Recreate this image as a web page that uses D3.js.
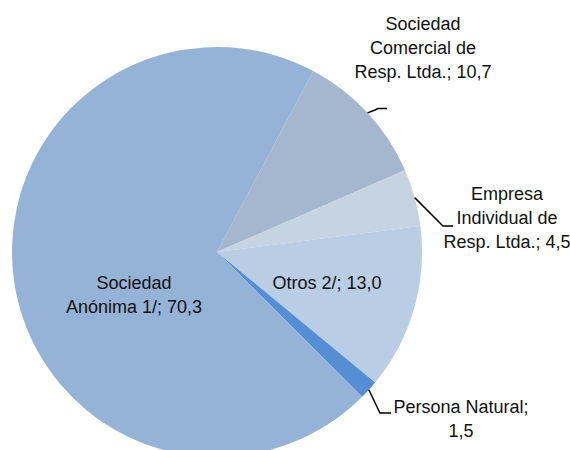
<!DOCTYPE html>
<html>
<head>
<meta charset="utf-8">
<script src="https://cdn.jsdelivr.net/npm/d3@7"></script>
<style>
  html, body { margin: 0; padding: 0; background: #ffffff; }
  svg { display: block; }
  text { font-family: "Liberation Sans", Arial, sans-serif; font-size: 18px; fill: #111111; }
</style>
</head>
<body>
<svg id="chart" width="570" height="450"></svg>
<script>
// Legal form shares (%), in clockwise drawing order
const categories = [
  "Sociedad Comercial de Resp. Ltda.",
  "Empresa Individual de Resp. Ltda.",
  "Otros 2/",
  "Persona Natural",
  "Sociedad Anónima 1/"
];
const values = [10.7, 4.5, 13.0, 1.5, 70.3];
const valueLabels = ["10,7", "4,5", "13,0", "1,5", "70,3"];
const labelLines = [
  ["Sociedad", "Comercial de", "Resp. Ltda.; 10,7"],
  ["Empresa", "Individual de", "Resp. Ltda.; 4,5"],
  ["Otros 2/; 13,0"],
  ["Persona Natural;", "1,5"],
  ["Sociedad", "Anónima 1/; 70,3"]
];
const colors = ["#a5b7ce", "#c6d3e1", "#b9cde5", "#558ed5", "#95b3d7"];

// Label placement: text anchor point, first baseline, and optional leader elbow
const labelLayout = [
  { x: 423, y: 30, leader: [[375, 110], [378, 108.5], [387, 108.5]] },
  { x: 507, y: 200, leader: [[443, 226], [453, 226]] },
  { x: 327, y: 289, leader: null },
  { x: 461, y: 413, leader: [[380, 413], [391, 413]] },
  { x: 134, y: 289, leader: null }
];

const svg = d3.select("#chart");
const cx = 217, cy = 252, radius = 205;
const lineHeight = 24;

const pie = d3.pie().sort(null).value(d => d)
  .startAngle(28 * Math.PI / 180)
  .endAngle(28 * Math.PI / 180 + 2 * Math.PI);
const arcs = pie(values);
const arc = d3.arc().innerRadius(0).outerRadius(radius);

const g = svg.append("g").attr("transform", `translate(${cx},${cy})`);
g.selectAll("path.slice")
  .data(arcs)
  .join("path")
  .attr("class", "slice")
  .attr("d", arc)
  .attr("fill", (d, i) => colors[i]);

// Leader lines start on the rim at each slice's middle angle
arcs.forEach((d, i) => {
  const lay = labelLayout[i];
  if (!lay.leader) return;
  const mid = (d.startAngle + d.endAngle) / 2;
  const sx = cx + Math.sin(mid) * radius;
  const sy = cy - Math.cos(mid) * radius;
  const pts = [[sx, sy]].concat(lay.leader);
  svg.append("path")
    .attr("d", d3.line()(pts))
    .attr("fill", "none")
    .attr("stroke", "#000000")
    .attr("stroke-width", 1.5);
});

labelLines.forEach((lines, i) => {
  const lay = labelLayout[i];
  const t = svg.append("text")
    .attr("text-anchor", "middle")
    .attr("x", lay.x)
    .attr("y", lay.y);
  lines.forEach((ln, j) => {
    t.append("tspan")
      .attr("x", lay.x)
      .attr("y", lay.y + j * lineHeight)
      .text(ln);
  });
});
</script>
</body>
</html>
